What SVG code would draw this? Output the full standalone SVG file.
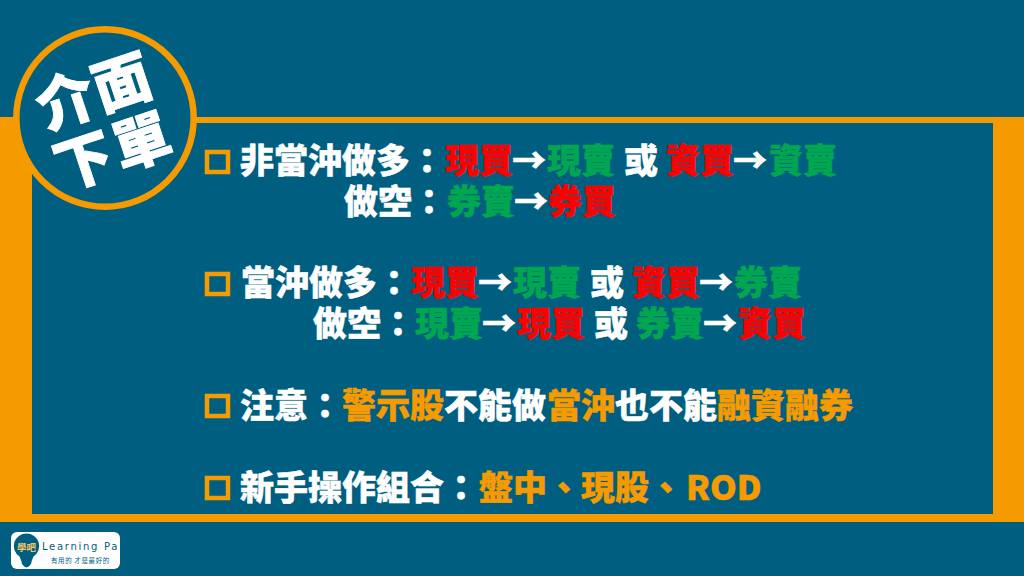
<svg xmlns="http://www.w3.org/2000/svg" width="1024" height="576" viewBox="0 0 1024 576">
<style>
text{font-family:"Noto Sans CJK TC","Noto Sans CJK JP",sans-serif;font-weight:900;font-size:34px;fill:#fff;stroke:#fff;stroke-width:.5}
.r{fill:#f00;stroke:#f00}.g{fill:#00a650;stroke:#00a650}.o{fill:#f59b00;stroke:#f59b00}
.big{font-size:58px;letter-spacing:1px;stroke-width:.8}
.box{fill:none;stroke:#f59b00;stroke-width:4.5}
.logo{stroke:none;fill:#005f80;font-weight:400}
</style>
<rect width="1024" height="576" fill="#005f80"/>
<g id="frame"><path fill="#f59b00" fill-rule="evenodd" d="M0 117H1024V522H0ZM32 123V514H993V123Z"/></g>
<g id="badge">
<circle cx="105" cy="118" r="88.7" fill="#005f80" stroke="#f59b00" stroke-width="6.5"/>
<text class="big" transform="translate(45 130) rotate(-18.4)">介面</text>
<text class="big" transform="translate(63 190) rotate(-18.4)"><tspan>下</tspan><tspan dx="2">單</tspan></text>
</g>
<g id="item1">
<rect class="box" x="207" y="152" width="21" height="20"/>
<text x="240" y="173">非當沖做多：<tspan x="445" class="r">現買</tspan><tspan x="512">→</tspan><tspan x="547" class="g">現賣</tspan><tspan x="624">或</tspan><tspan x="666" class="r">資買</tspan><tspan x="733">→</tspan><tspan x="769" class="g">資賣</tspan></text>
<text x="344" y="214">做空：<tspan x="447" class="g">券賣</tspan><tspan x="514">→</tspan><tspan x="548" class="r">券買</tspan></text>
</g>
<g id="item2">
<rect class="box" x="207" y="274" width="21" height="20"/>
<text x="241" y="295">當沖做多：<tspan x="411" class="r">現買</tspan><tspan x="478">→</tspan><tspan x="513" class="g">現賣</tspan><tspan x="590">或</tspan><tspan x="632" class="r">資買</tspan><tspan x="699">→</tspan><tspan x="734" class="g">券賣</tspan></text>
<text x="313" y="336">做空：<tspan x="415" class="g">現賣</tspan><tspan x="482">→</tspan><tspan x="517" class="r">現買</tspan><tspan x="594">或</tspan><tspan x="636" class="g">券賣</tspan><tspan x="703">→</tspan><tspan x="738" class="r">資買</tspan></text>
</g>
<g id="item3">
<rect class="box" x="207" y="396" width="21" height="20"/>
<text x="240" y="418">注意：<tspan x="342" class="o">警示股</tspan><tspan x="444">不能做</tspan><tspan x="547" class="o">當沖</tspan><tspan x="615">也不能</tspan><tspan x="717" class="o">融資融券</tspan></text>
</g>
<g id="item4">
<rect class="box" x="207" y="478" width="21" height="20"/>
<text x="240" y="500">新手操作組合：<tspan x="479" class="o">盤中、現股、</tspan><tspan x="686" class="o">ROD</tspan></text>
</g>
<g id="logo">
<rect x="11" y="532" width="109" height="37" rx="6" fill="#fff"/>
<path fill="#005f80" d="M26.500 533.500a12.500 12.500 0 0 1 7 23l-2 5q0 4-5 6q-5-2-5-6l-2-5a12.500 12.500 0 0 1 7-23Z"/>
<text x="17" y="551" style="font-size:9.500px;font-weight:700;fill:#f5c46a;stroke:none">學吧</text>
<text class="logo" x="42" y="550" style="font-family:'DejaVu Sans',sans-serif;font-size:10px;letter-spacing:1.700px;stroke:none">Learning Pa</text>
<text class="logo" x="51" y="563" style="font-size:6.500px;letter-spacing:.6px;stroke:none">有用的 才是最好的</text>
</g>
</svg>
